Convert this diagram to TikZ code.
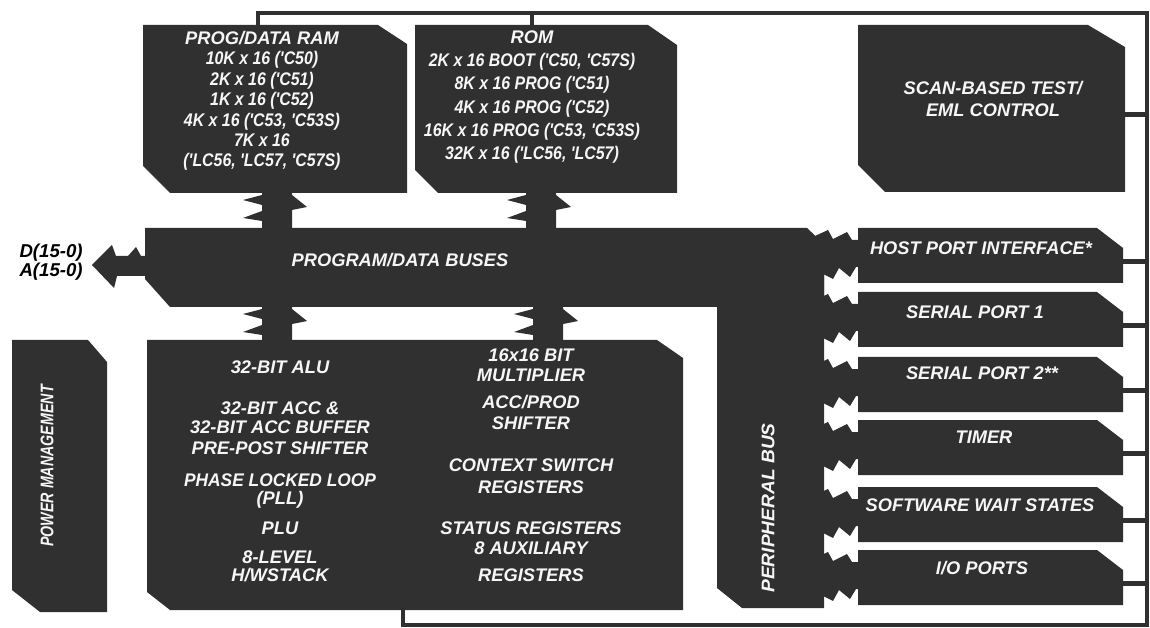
\documentclass[tikz,border=0pt]{standalone}
\usepackage{fontspec}
\setmainfont{Liberation Sans}
\newfontfamily\narrowfont[FakeStretch=0.87]{Liberation Sans}
\newfontfamily\semifont[FakeStretch=0.95]{Liberation Sans}
\newdimen\upx \upx=0.02cm
\definecolor{boxfill}{RGB}{48,48,48}
\definecolor{boxtext}{RGB}{246,246,246}
\newcommand\nw[1]{{\narrowfont\bfseries\itshape #1}}
\newcommand\sw[1]{{\semifont\bfseries\itshape #1}}
\newcommand\vlink[3]{%
  \fill[boxfill] ({#1-15},{#2-3}) -- ({#1-15},{#2+2}) -- ({#1-34},{#2+7}) -- ({#1-15},{#2+12})
    -- ({#1-15},{#2+18}) -- ({#1-34},{#2+25}) -- ({#1-15},{#2+28}) -- ({#1-15},{#3+3})
    -- ({#1+15},{#3+3}) -- ({#1+15},{#2+17}) -- ({#1+30},{#2+14}) -- ({#1+15},{#2+2})
    -- ({#1+15},{#2-3}) -- cycle;}
\newcommand\hlink[1]{%
  \fill[boxfill] (815,{#1+8}) -- (828,{#1+2}) -- (833,{#1+11}) -- (847,{#1+4}) -- (852,{#1+12})
    -- (865,{#1+12}) -- (865,{#1+39}) -- (856,{#1+39}) -- (850,{#1+49}) -- (839,{#1+40})
    -- (833,{#1+51}) -- (815,{#1+42}) -- cycle;}
\begin{document}
\begin{tikzpicture}[x=0.02cm, y=-0.02cm,
  chx/.store in=\chX, chy/.store in=\chY, cbx/.store in=\cbX, cby/.store in=\cbY,
  chx=26\upx, chy=20\upx, cbx=25\upx, cby=25\upx,
  chbox/.style={inner sep=0pt, outer sep=0pt, path picture={
    \fill[boxfill] (path picture bounding box.north west)
      -- ([xshift=-\chX]path picture bounding box.north east)
      -- ([yshift=-\chY]path picture bounding box.north east)
      -- (path picture bounding box.south east)
      -- ([xshift=\cbX]path picture bounding box.south west)
      -- ([yshift=\cbY]path picture bounding box.south west) -- cycle;}},
  portbox/.style={chbox, chx=26\upx, chy=20\upx, cbx=0pt, cby=0pt,
    minimum width=265\upx, minimum height=55\upx},
  lbl/.style={text=boxtext, font=\fontsize{10.4}{11.6}\selectfont\bfseries\itshape,
    align=center, inner sep=0pt},
  wire/.style={draw=boxfill, line width=2.3pt},
]
\fill[white] (0,0) rectangle (1150,628);
\useasboundingbox (0,0) rectangle (1150,628);

\coordinate (tr) at (1147,13);
\coordinate (br) at (1147,625);

% boxes
\node[chbox, chx=29\upx, chy=19\upx, cbx=27\upx, cby=27\upx,
  minimum width=264\upx, minimum height=168\upx] (ram) at (275,109) {};
\node[chbox, chx=29\upx, chy=20\upx, cbx=23\upx, cby=23\upx,
  minimum width=262\upx, minimum height=168\upx] (rom) at (546,109) {};
\node[chbox, chx=37\upx, chy=22\upx, cbx=27\upx, cby=27\upx,
  minimum width=267\upx, minimum height=167\upx] (scan) at (991.5,108.5) {};
\node[chbox, chx=17\upx, chy=16\upx, cbx=25\upx, cby=28\upx,
  minimum width=679\upx, minimum height=79\upx] (bus) at (484.5,267.5) {};
\node[chbox, chx=0pt, chy=0pt, cbx=25\upx, cby=20\upx,
  minimum width=107\upx, minimum height=348\upx] (pbus) at (770.5,434) {};
\node[chbox, chx=26\upx, chy=18\upx, cbx=23\upx, cby=18\upx,
  minimum width=536\upx, minimum height=270\upx] (alu) at (415,475) {};
\node[chbox, chx=19\upx, chy=22\upx, cbx=28\upx, cby=22\upx,
  minimum width=95\upx, minimum height=272\upx] (pwr) at (59.5,476) {};

\node[portbox] (host) at (990.5,255.5) {};
\node[portbox] (sp1)  at (990.5,319.5) {};
\node[portbox] (sp2)  at (990.5,384.5) {};
\node[portbox] (tim)  at (990.5,447.5) {};
\node[portbox] (sws)  at (990.5,514.5) {};
\node[portbox] (io)   at (990.5,577.5) {};

% jagged bus links
\vlink{277}{193}{228}
\vlink{541}{193}{228}
\vlink{277}{307}{340}
\vlink{548}{307}{340}
\hlink{228}
\hlink{292}
\hlink{357}
\hlink{420}
\hlink{487}
\hlink{550}
% external address/data arrow
\fill[boxfill] (92,265) -- (112,245) -- (116,256) -- (128,256) -- (136,247) -- (141,256)
  -- (150,256) -- (150,276) -- (117,276) -- (114,288) -- cycle;

% connector lines
\draw[wire] ([xshift=115\upx]ram.north west) |- (tr) -- (br) -| ([xshift=256\upx]alu.south west);
\draw[wire] ([xshift=117\upx]rom.north west) -- ([xshift=117\upx]rom.north west |- tr);
\draw[wire] ([yshift=-6\upx]scan.east) -- ([yshift=-6\upx]scan.east -| br);
\foreach \p in {host,sp1,sp2,tim,sws,io}
  \draw[wire] ([yshift=-6\upx]\p.east) -- ([yshift=-6\upx]\p.east -| br);

% texts
\node[lbl] (ramtxt) at (262,101) {PROG/DATA RAM\\\nw{10K x 16 ('C50)}\\\nw{2K x 16 ('C51)}\\\nw{1K x 16 ('C52)}\\\nw{4K x 16 ('C53, 'C53S)}\\\nw{7K x 16}\\\nw{('LC56, 'LC57, 'C57S)}};
\node[lbl, font=\fontsize{10.4}{13.3}\selectfont\bfseries\itshape] (romtxt) at (532,97) {ROM\\\nw{2K x 16 BOOT ('C50, 'C57S)}\\\nw{8K x 16 PROG ('C51)}\\\nw{4K x 16 PROG ('C52)}\\\nw{16K x 16 PROG ('C53, 'C53S)}\\\nw{32K x 16 ('LC56, 'LC57)}};
\node[lbl, font=\fontsize{10.4}{12.5}\selectfont\bfseries\itshape] (scantxt) at (993,99) {SCAN-BASED TEST/\\EML CONTROL};
\node[lbl] (bustxt) at (400,260) {PROGRAM/DATA BUSES};
\node[lbl] (alul) at (280,471) {32-BIT ALU\\[11.7pt]32-BIT ACC \&\\[-0.8pt]32-BIT ACC BUFFER\\[0.3pt]PRE-POST SHIFTER\\[6.6pt]\sw{PHASE LOCKED LOOP}\\[-1.4pt](PLL)\\[5.5pt]PLU\\[4.9pt]8-LEVEL\\[-1.4pt]H/WSTACK};
\node[lbl] (alur) at (531,465) {16x16 BIT\\[-0.2pt]MULTIPLIER\\[3.8pt]ACC/PROD\\[0.3pt]SHIFTER\\[12.3pt]CONTEXT SWITCH\\[0.9pt]REGISTERS\\[11.7pt]STATUS REGISTERS\\[-0.2pt]8 AUXILIARY\\[3.8pt]REGISTERS};
\node[lbl, rotate=90] (pwrtxt) at (47,466) {\scalebox{0.78}[1]{POWER MANAGEMENT}};
\node[lbl, rotate=90] (pbtxt) at (768,508) {\scalebox{1.05}[1]{PERIPHERAL BUS}};
\node[lbl] (hosttxt) at (981,248) {HOST PORT INTERFACE*};
\node[lbl] (sp1txt) at (975,312) {SERIAL PORT 1};
\node[lbl] (sp2txt) at (982,373) {SERIAL PORT 2**};
\node[lbl] (timtxt) at (984,437) {TIMER};
\node[lbl] (swstxt) at (980,505) {SOFTWARE WAIT STATES};
\node[lbl] (iotxt) at (982,568) {I/O PORTS};
\node[lbl, text=black, align=right, anchor=east, font=\fontsize{10.6}{9.8}\selectfont\bfseries\itshape] (addr) at (83,262) {D(15-0)\\A(15-0)};
\end{tikzpicture}
\end{document}
